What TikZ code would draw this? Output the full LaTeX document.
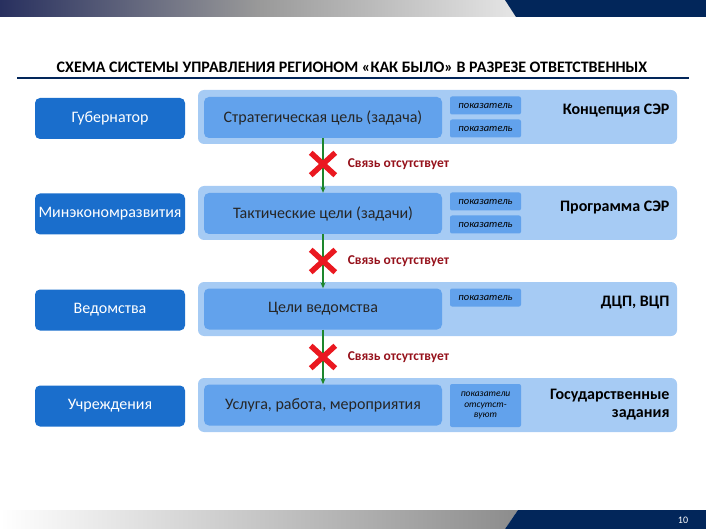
\documentclass[tikz,border=0pt]{standalone}
\usepackage{fontspec}
\setmainfont{Carlito}
\usetikzlibrary{positioning,shapes.misc,arrows.meta}

\definecolor{navy}{RGB}{2,38,90}
\definecolor{navyfade}{RGB}{40,48,95}
\definecolor{actorblue}{RGB}{26,110,204}
\definecolor{goalblue}{RGB}{98,162,236}
\definecolor{bandblue}{RGB}{166,203,244}
\definecolor{linkred}{RGB}{150,18,28}
\definecolor{crossred}{RGB}{234,24,32}
\definecolor{flowgreen}{RGB}{30,135,45}

\begin{document}
\begin{tikzpicture}[x=1pt,y=-1pt,
    actor/.style={
        rectangle,
        rounded corners=5pt,
        fill=actorblue,
        text=white,
        minimum width=150pt,
        minimum height=41pt,
        inner sep=1pt,
        font=\fontsize{16}{18}\selectfont
    },
    goal/.style={
        rectangle,
        rounded corners=5pt,
        fill=goalblue,
        text=black!85,
        minimum width=238pt,
        minimum height=41pt,
        font=\fontsize{16}{18}\selectfont
    },
    band/.style={
        rectangle,
        rounded corners=6pt,
        fill=bandblue,
        minimum width=479pt,
        minimum height=54pt
    },
    metric/.style={
        rectangle,
        rounded corners=2pt,
        fill=goalblue,
        minimum width=71pt,
        minimum height=18pt,
        inner sep=1pt,
        align=center,
        font=\fontsize{10.5}{11}\selectfont\itshape
    },
    doc/.style={
        anchor=east,
        align=right,
        font=\fontsize{16}{18}\selectfont\bfseries
    },
    nolink/.style={
        cross out,
        draw=crossred,
        line width=5.5pt,
        minimum width=19pt,
        minimum height=17pt,
        inner sep=0pt
    },
    nolinktext/.style={
        text=linkred,
        font=\fontsize{13.5}{15}\selectfont\bfseries
    },
    flow/.style={
        -{Stealth[length=6pt,width=5pt]},
        draw=flowgreen,
        line width=1.4pt
    }
]
\useasboundingbox (0,0) rectangle (706,529);

% Banners
\shade[left color=navyfade, right color=black!10, middle color=black!40] (0,0) -- (505,0) -- (516,17) -- (0,17) -- cycle;
\fill[navy] (505,0) -- (706,0) -- (706,17) -- (516,17) -- cycle;
\shade[left color=white, right color=black!45] (0,510) -- (518,510) -- (505,529) -- (0,529) -- cycle;
\fill[navy] (518,510) -- (706,510) -- (706,529) -- (505,529) -- cycle;
\node[text=white, font=\fontsize{10}{12}\selectfont] (pagenum) at (683,520) {10};

% Title
\node[font=\fontsize{16}{18}\selectfont\bfseries] (title) at (352,67) {СХЕМА СИСТЕМЫ УПРАВЛЕНИЯ РЕГИОНОМ «КАК БЫЛО» В РАЗРЕЗЕ ОТВЕТСТВЕННЫХ};
\draw[navy, line width=2pt] (17,78) -- (689,78);

% Row 1
\node[band] (band1) at (437.5,117) {};
\node[actor] (gov) at (110,118.5) {Губернатор};
\node[goal] (strat) at (323,117.5) {Стратегическая цель (задача)};
\node[metric] (m1a) at (485.5,105.5) {показатель};
\node[metric] (m1b) at (485.5,128.5) {показатель};
\node[doc] (doc1) at (673,110.5) {Концепция СЭР};

% Row 2
\node[band] (band2) at (437.5,213) {};
\node[actor] (mer) at (110,214) {Минэкономразвития};
\node[goal] (tact) at (323,213.5) {Тактические цели (задачи)};
\node[metric] (m2a) at (485.5,201.5) {показатель};
\node[metric] (m2b) at (485.5,224.5) {показатель};
\node[doc] (doc2) at (673,207.5) {Программа СЭР};

% Row 3
\node[band] (band3) at (437.5,309) {};
\node[actor] (ved) at (110,310) {Ведомства};
\node[goal] (vedgoal) at (323,309) {Цели ведомства};
\node[metric] (m3a) at (485.5,297.5) {показатель};
\node[doc] (doc3) at (673,303) {ДЦП, ВЦП};

% Row 4
\node[band] (band4) at (437.5,405) {};
\node[actor] (inst) at (110,406) {Учреждения};
\node[goal] (service) at (323,405) {Услуга, работа, мероприятия};
\node[metric, minimum height=43pt, font=\fontsize{9.5}{10.5}\selectfont\itshape] (m4a) at (485.5,405.5) {показатели\\отсутст-\\вуют};
\node[doc] (doc4) at (673,405) {Государственные\\задания};

% Arrows
\draw[flow] (strat) -- (tact);
\draw[flow] (tact) -- (vedgoal);
\draw[flow] (vedgoal) -- (service);

% Missing links
\node[nolink] (x1) at (323,164) {};
\node[nolinktext, right=9pt of x1] (t1) {Связь отсутствует};
\node[nolink] (x2) at (323,261) {};
\node[nolinktext, right=9pt of x2] (t2) {Связь отсутствует};
\node[nolink] (x3) at (323,357) {};
\node[nolinktext, right=9pt of x3] (t3) {Связь отсутствует};

\end{tikzpicture}
\end{document}
